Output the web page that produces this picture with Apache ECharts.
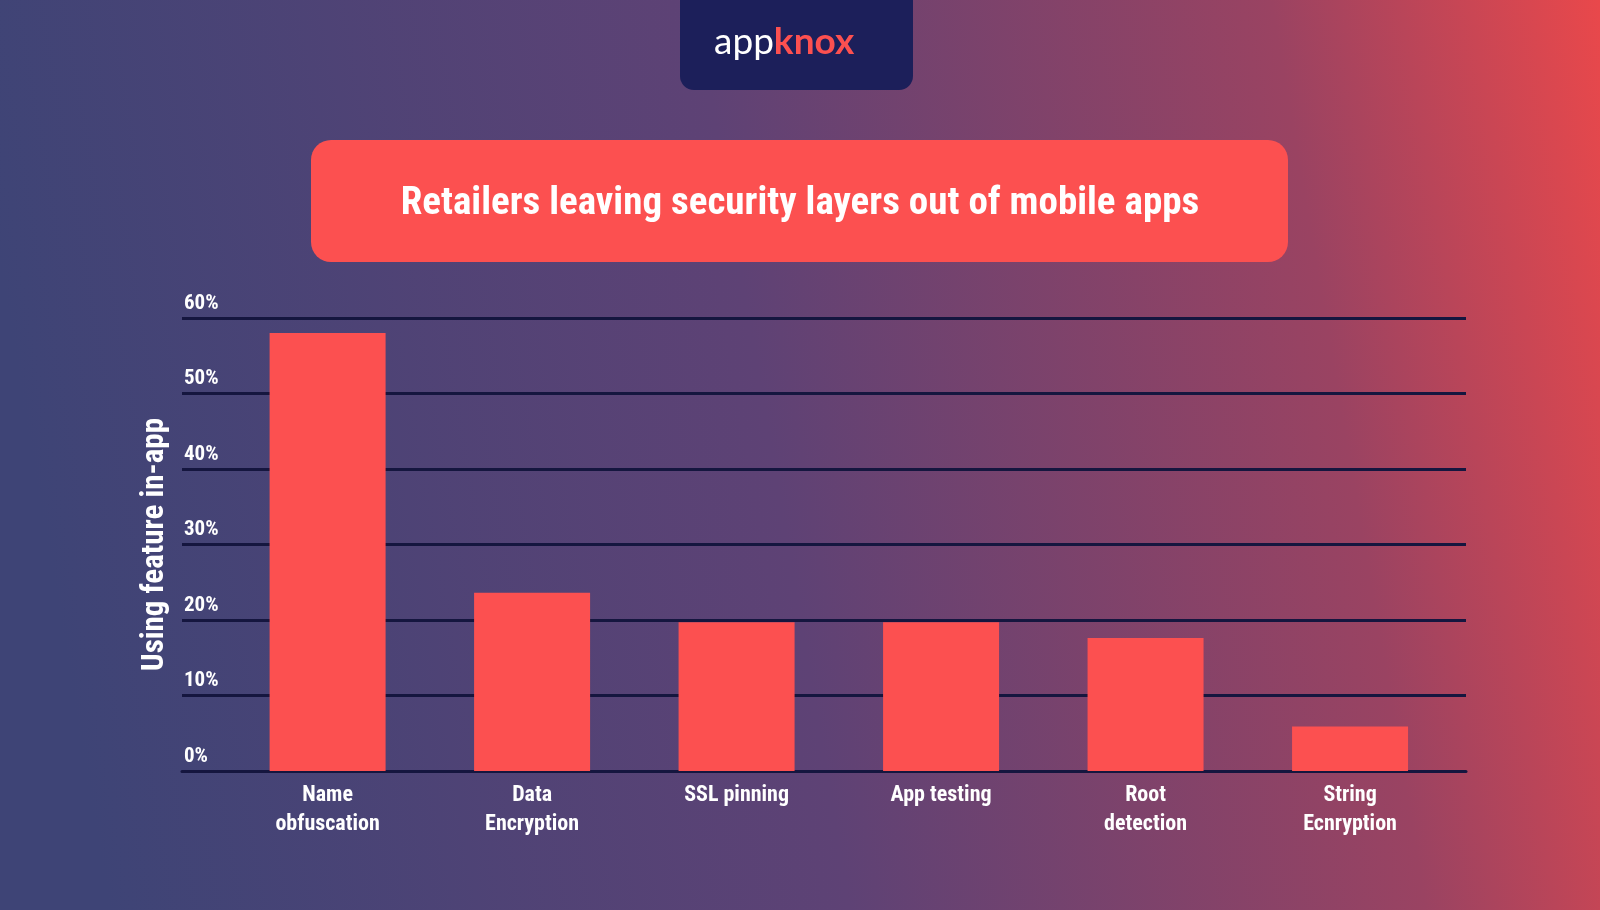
<!DOCTYPE html>
<html>
<head>
<meta charset="utf-8">
<title>Retailers leaving security layers out of mobile apps</title>
<script src="https://cdn.jsdelivr.net/npm/echarts@6/dist/echarts.min.js"></script>
<style>
    html, body { margin: 0; padding: 0; }
    #chart { width: 1600px; height: 910px; }
</style>
</head>
<body>
<div id="chart"></div>
<script>
    // chart data
    var categories = ['Name\nobfuscation', 'Data\nEncryption', 'SSL pinning', 'App testing', 'Root\ndetection', 'String\nEcnryption'];
    var usage = [58, 23.6, 19.7, 19.7, 17.6, 5.9];
    var yTicks = [0, 10, 20, 30, 40, 50, 60];

    var font = 'Roboto Condensed, Roboto, "Liberation Sans Narrow", sans-serif';
    var chart = echarts.init(document.getElementById('chart'));
    chart.setOption({
        backgroundColor: new echarts.graphic.LinearGradient(0, 0.3, 1, 0, [
            { offset: 0, color: '#3e4476' },
            { offset: 0.45, color: '#5e4275' },
            { offset: 0.8, color: '#9a4362' },
            { offset: 1, color: '#e9484b' }
        ]),
        graphic: [
            { type: 'rect', shape: { x: 680, y: -20, width: 233, height: 110, r: 14 }, style: { fill: '#1c1f5a' } },
            { type: 'text', left: 714, top: 24, style: {
                text: '{a|app}{b|knox}',
                rich: {
                    a: { fill: '#fff', font: '37px Lato, sans-serif' },
                    b: { fill: '#fc5050', font: 'bold 37px Lato, sans-serif' }
                }
            } },
            { type: 'rect', shape: { x: 311, y: 140, width: 977, height: 122, r: 20 }, style: { fill: '#fc5050' } },
            { type: 'text', left: 'center', top: 185, style: { text: 'Retailers leaving security layers out of mobile apps', fill: '#fff', font: 'bold 39px ' + font } }
        ],
        grid: { left: 182, right: 134, top: 318, bottom: 139 },
        xAxis: {
            type: 'value',
            min: -0.712, max: 5.567,
            axisLine: { show: true, lineStyle: { color: '#15163f', width: 3 } },
            axisTick: { show: false },
            splitLine: { show: false },
            axisLabel: {
                customValues: categories.map(function (c, i) { return i; }),
                formatter: function (v) { return categories[Math.round(v)] || ''; },
                color: '#fff', fontSize: 22, fontWeight: 'bold', fontFamily: font, lineHeight: 29, margin: 10
            }
        },
        yAxis: {
            type: 'value',
            min: 0, max: 60, interval: 10,
            name: 'Using feature in-app',
            nameLocation: 'middle',
            nameGap: 11,
            nameTextStyle: { color: '#fff', fontSize: 31, fontWeight: 'bold', fontFamily: font },
            axisLine: { show: false },
            axisTick: { show: false },
            splitLine: { lineStyle: { color: '#15163f', width: 3 } },
            axisLabel: {
                inside: true, verticalAlign: 'bottom', margin: 2, padding: [0, 0, 4, 0],
                color: '#fff', fontSize: 21, fontWeight: 'bold', fontFamily: font,
                formatter: function (v) { return yTicks.indexOf(v) >= 0 ? v + '%' : ''; }
            }
        },
        series: [{
            type: 'bar',
            data: usage.map(function (v, i) { return [i, v]; }),
            barWidth: 116,
            itemStyle: { color: '#fc5050' }
        }]
    });
</script>
</body>
</html>
